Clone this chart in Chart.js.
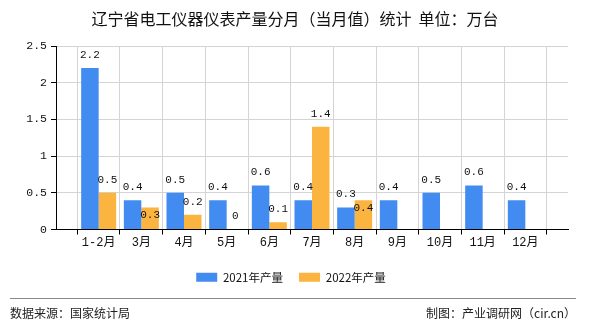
<!DOCTYPE html>
<html>
<head>
<meta charset="utf-8">
<script src="https://cdn.jsdelivr.net/npm/chart.js@4/dist/chart.umd.min.js"></script>
<style>
  html, body { margin: 0; padding: 0; background: #fff; }
  #wrap { width: 590px; height: 330px; }
</style>
</head>
<body>
<div id="wrap"><canvas id="chartContainer" width="590" height="330"></canvas></div>
<script>
"use strict";

// 1: data
let months = ['1-2月', '3月', '4月', '5月', '6月', '7月', '8月', '9月', '10月', '11月', '12月'];
let output2021 = [2.2, 0.4, 0.5, 0.4, 0.6, 0.4, 0.3, 0.4, 0.5, 0.6, 0.4];
let output2022 = [0.5, 0.3, 0.2, 0, 0.1, 1.4, 0.4, null, null, null, null];
let yTicks = [0, 0.5, 1, 1.5, 2, 2.5];

let titleText = '辽宁省电工仪器仪表产量分月（当月值）统计  单位：万台';
let sourceText = '数据来源：国家统计局';
let makerText = '制图：产业调研网（cir.cn）';

const monoFont = "'Liberation Mono', 'Noto Sans CJK SC', monospace";
const cjkFont = "'Noto Sans CJK SC', sans-serif";

// 2: prepare data for chart (empty slot at both ends, like the original axis)
function prepareData() {
  return {
    labels: [''].concat(months, ['']),
    a: [null].concat(output2021, [null]),
    b: [null].concat(output2022, [null])
  };
}

// title + footer drawn on the canvas
const decorPlugin = {
  id: 'decor',
  afterDraw(chart) {
    const ctx = chart.ctx;
    ctx.save();
    ctx.fillStyle = '#111';
    ctx.font = '16px ' + cjkFont;
    ctx.textAlign = 'center';
    ctx.textBaseline = 'middle';
    ctx.fillText(titleText, 295, 19);

    ctx.strokeStyle = '#888';
    ctx.lineWidth = 1;
    ctx.beginPath();
    ctx.moveTo(10, 298.5);
    ctx.lineTo(576, 298.5);
    ctx.stroke();

    ctx.font = '12px ' + cjkFont;
    ctx.fillStyle = '#222';
    ctx.textAlign = 'left';
    ctx.fillText(sourceText, 10, 313);
    ctx.textAlign = 'right';
    ctx.fillText(makerText, 576, 313);
    ctx.restore();
  }
};

// value labels on top of bars; second series moves inside when it hits the first
const valueLabels = {
  id: 'valueLabels',
  afterDatasetsDraw(chart) {
    const ctx = chart.ctx;
    const m0 = chart.getDatasetMeta(0);
    const m1 = chart.getDatasetMeta(1);
    ctx.save();
    ctx.font = '11px ' + monoFont;
    ctx.fillStyle = '#111';
    ctx.textAlign = 'center';
    ctx.textBaseline = 'middle';
    chart.data.labels.forEach((lab, i) => {
      let v0 = chart.data.datasets[0].data[i];
      let v1 = chart.data.datasets[1].data[i];
      let y0 = null;
      if (v0 !== null) {
        let el = m0.data[i];
        y0 = el.y - 13;
        ctx.fillText(String(v0), el.x, y0);
      }
      if (v1 !== null) {
        let el = m1.data[i];
        let y1 = el.y - 13;
        if (y0 !== null && Math.abs(y1 - y0) < 15) y1 = el.y + 8;
        ctx.fillText(String(v1), el.x, y1);
      }
    });
    ctx.restore();
  }
};

// 3: create and append the chart
function appendChart() {
  let data = prepareData();
  let chartContainer = document.getElementById('chartContainer');
  let chart = new Chart(chartContainer, {
    type: 'bar',
    data: {
      labels: data.labels,
      datasets: [{
        label: '2021年产量',
        data: data.a,
        backgroundColor: '#428BF0',
        categoryPercentage: 0.82,
        barPercentage: 1
      }, {
        label: '2022年产量',
        data: data.b,
        backgroundColor: '#FCB441',
        categoryPercentage: 0.82,
        barPercentage: 1
      }]
    },
    options: {
      responsive: false,
      animation: false,
      layout: { padding: { top: 46, right: 22, bottom: 37, left: 14 } },
      plugins: {
        title: { display: false },
        tooltip: { enabled: false },
        legend: {
          position: 'bottom',
          labels: {
            boxWidth: 21,
            boxHeight: 9,
            padding: 16,
            color: '#111',
            font: { size: 11.5, family: cjkFont }
          }
        }
      },
      scales: {
        x: {
          offset: false,
          afterFit(scale) { scale.height = 26; },
          grid: { color: '#d4d4d4', tickColor: '#000', tickLength: 5 },
          border: { color: '#000', width: 1 },
          ticks: {
            autoSkip: false,
            maxRotation: 0,
            padding: 1,
            color: '#111',
            font: { size: 12, family: monoFont }
          }
        },
        y: {
          min: yTicks[0],
          max: yTicks[yTicks.length - 1],
          afterFit(scale) { scale.width = 42; },
          afterBuildTicks(scale) { scale.ticks = yTicks.map(v => ({ value: v })); },
          grid: { color: '#d4d4d4', tickColor: '#000', tickLength: 5 },
          border: { color: '#000', width: 1 },
          ticks: {
            padding: 4,
            color: '#111',
            font: { size: 11.5, family: monoFont },
            callback: v => String(v)
          }
        }
      }
    },
    plugins: [decorPlugin, valueLabels]
  });
}

appendChart();
</script>
</body>
</html>
